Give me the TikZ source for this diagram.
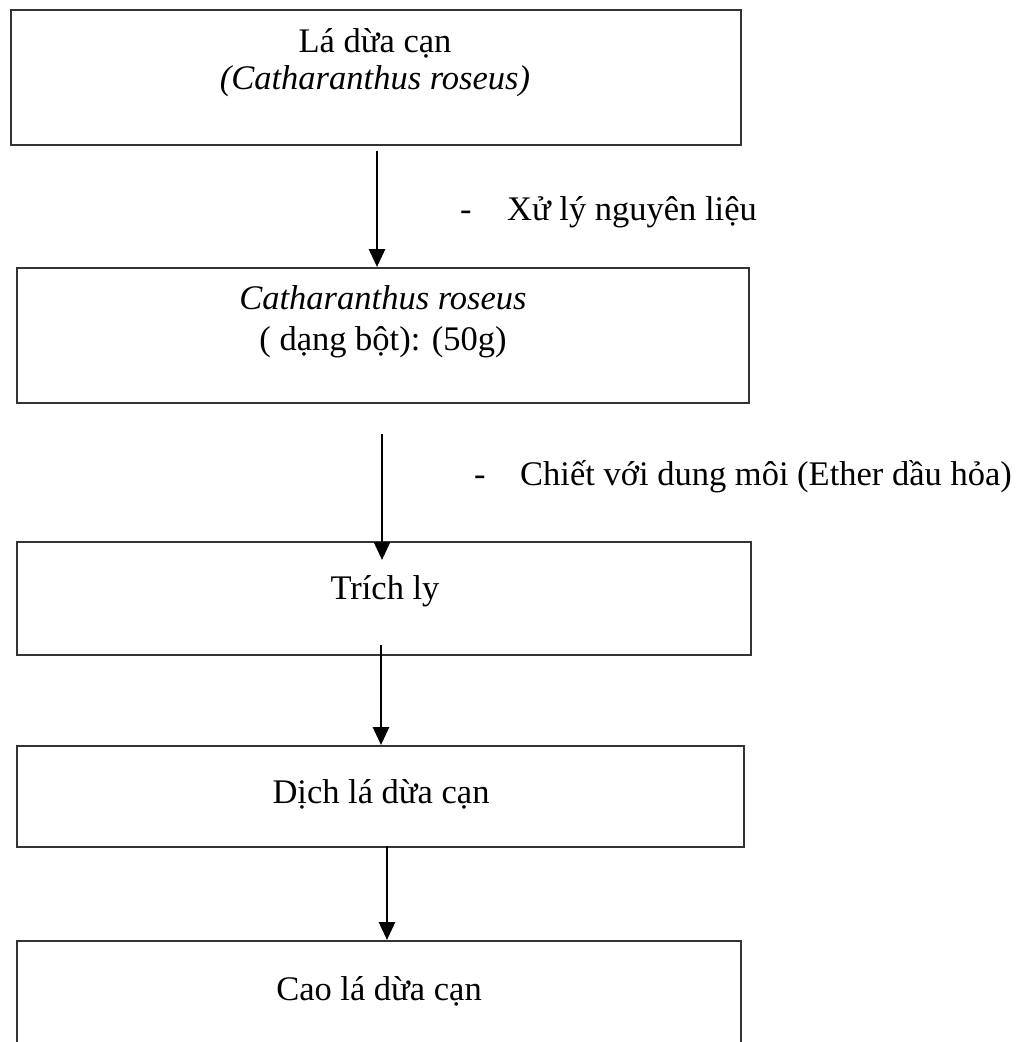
\documentclass[tikz,border=0pt]{standalone}
\usepackage{fontspec}
\setmainfont{Liberation Serif}
\usetikzlibrary{arrows.meta}
\begin{document}
\begin{tikzpicture}[x=1pt,y=-1pt,
  box/.style={draw=black!80, line width=1.6pt, rectangle, inner sep=0pt, anchor=north west},
  txt/.style={anchor=base, inner sep=0pt, font=\fontsize{34.5}{40}\selectfont},
  lbl/.style={anchor=base west, inner sep=0pt, font=\fontsize{34.5}{40}\selectfont},
  arr/.style={line width=2.8pt, black, -{Triangle[length=18pt,width=16pt]}},
]
\useasboundingbox (0,0) rectangle (1022,1042);
\clip (0,0) rectangle (1022,1042);

% process boxes
\node[box, minimum width=730pt, minimum height=135pt] (box1) at (10,9) {};
\node[box, minimum width=732pt, minimum height=135pt] (box2) at (16,267) {};
\node[box, minimum width=734pt, minimum height=113pt] (box3) at (16,541) {};
\node[box, minimum width=727pt, minimum height=101pt] (box4) at (16,745) {};
\node[box, minimum width=724pt, minimum height=140pt] (box5) at (16,940) {};

% box texts
\node[txt] (t1a) at (375,52) {Lá dừa cạn};
\node[txt] (t1b) at (375,89) {\itshape (Catharanthus roseus)};
\node[txt] (t2a) at (383,309) {\itshape Catharanthus roseus};
\node[txt] (t2b) at (383,350) {( dạng bột): (50g)};
\node[txt] (t3) at (385,599) {Trích ly};
\node[txt] (t4) at (381,803) {Dịch lá dừa cạn};
\node[txt] (t5) at (379,1000) {Cao lá dừa cạn};

% step labels
\node[lbl] (d1) at (460,220) {-};
\node[lbl] (l1) at (507,220) {Xử lý nguyên liệu};
\node[lbl] (d2) at (474,485) {-};
\node[lbl] (l2) at (520,485) {Chiết với dung môi (Ether dầu hỏa)};

% connectors
\coordinate (a1s) at (377,151);
\draw[arr] (a1s) -- (a1s |- box2.north);
\coordinate (a2s) at (382,434);
\coordinate (a2e) at (382,560);
\draw[arr] (a2s) -- (a2e);
\coordinate (a3s) at (381,645);
\draw[arr] (a3s) -- (a3s |- box4.north);
\coordinate (a4s) at (387,846);
\draw[arr] (a4s) -- (a4s |- box5.north);
\end{tikzpicture}
\end{document}
